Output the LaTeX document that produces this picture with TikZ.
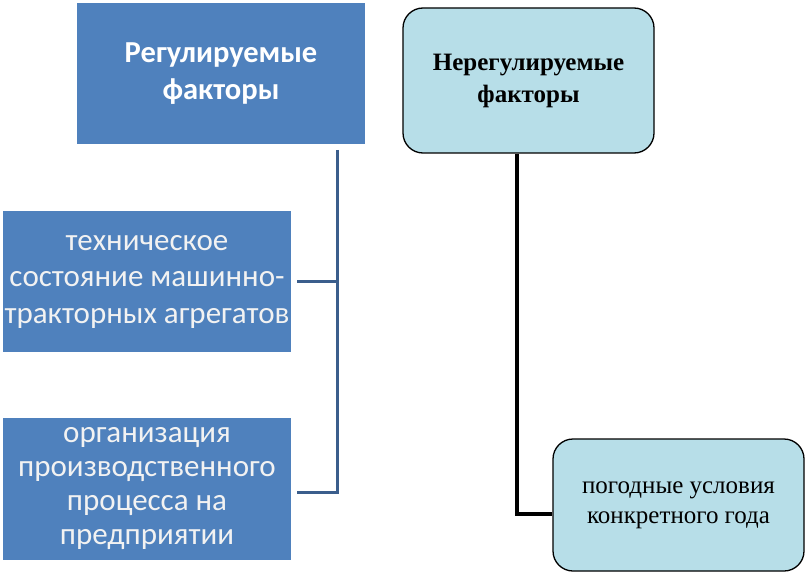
\documentclass[tikz,border=0pt]{standalone}
\usepackage{fontspec}
\setmainfont{Liberation Serif}
\newfontfamily\calib{Carlito}
\begin{document}
\begin{tikzpicture}[x=1pt,y=-1pt,
  bluebox/.style={fill=boxblue, draw=none, inner sep=0pt, align=center, font=\calib\fontsize{31}{36.5}\selectfont, text=textlight},
  cyanbox/.style={fill=boxcyan, draw=black, line width=1.3pt, rounded corners=20pt, inner sep=0pt, align=center},
  blueline/.style={draw=lineblue, line width=3pt},
  blackline/.style={draw=black, line width=4pt}]
\definecolor{boxblue}{HTML}{4F81BD}
\definecolor{boxcyan}{HTML}{B7DEE8}
\definecolor{lineblue}{HTML}{3B5E8C}
\definecolor{textlight}{HTML}{F2F2F2}
\useasboundingbox (0,0) rectangle (805,572);
\fill[white] (0,0) rectangle (805,572);
\node[bluebox, minimum width=288pt, minimum height=141pt, text=white, font=\calib\bfseries\fontsize{30.5}{37}\selectfont] (A) at (221,73.5) {Регулируемые\\факторы};
\node[bluebox, minimum width=288pt, minimum height=141pt] (B) at (147,281.5) {техническое\\состояние машинно-\\тракторных агрегатов};
\node[bluebox, minimum width=288pt, minimum height=142pt, font=\calib\fontsize{31}{34}\selectfont] (C) at (147,489) {организация\\производственного\\процесса на\\предприятии};
\node[cyanbox, minimum width=251pt, minimum height=145pt, font=\bfseries\fontsize{25}{32}\selectfont] (D) at (528.5,80.5) {Нерегулируемые\\факторы};
\node[cyanbox, minimum width=251pt, minimum height=132pt, font=\fontsize{25}{30}\selectfont] (E) at (678.5,505) {погодные условия\\конкретного года};
\coordinate (ltop) at (337,150);
\coordinate (lbot) at (337,492);
\coordinate (rbot) at (517,514);
\draw[blueline] (ltop) -- (lbot) -- ([xshift=6pt]C.east |- lbot);
\draw[blueline] (ltop |- B.east) -- ([xshift=6pt]B.east);
\draw[blackline] (D.south -| rbot) -- (rbot) -- (E.west |- rbot);
\end{tikzpicture}
\end{document}
